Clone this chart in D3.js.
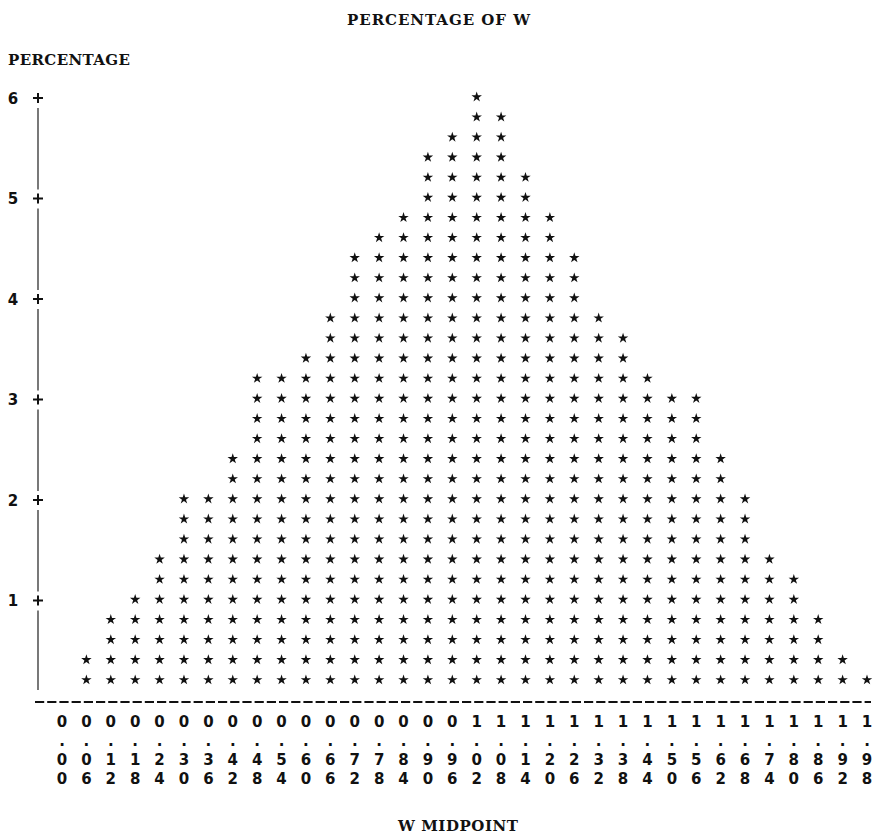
<!DOCTYPE html>
<html>
<head>
<meta charset="utf-8">
<script src="https://cdn.jsdelivr.net/npm/d3@7"></script>
<style>
  html, body { margin: 0; padding: 0; background: #fff; }
  svg { display: block; }
</style>
</head>
<body>
<svg id="chart" width="886" height="834"></svg>
<script>
// Midpoints of W (bar categories)
const midpoints = ["0.00","0.06","0.12","0.18","0.24","0.30","0.36","0.42","0.48","0.54",
                   "0.60","0.66","0.72","0.78","0.84","0.90","0.96","1.02","1.08","1.14",
                   "1.20","1.26","1.32","1.38","1.44","1.50","1.56","1.62","1.68","1.74",
                   "1.80","1.86","1.92","1.98"];
// Percentage of observations in each midpoint bin
const percentages = [0.0, 0.4, 0.8, 1.0, 1.4, 2.0, 2.0, 2.4, 3.2, 3.2,
                     3.4, 3.8, 4.4, 4.6, 4.8, 5.4, 5.6, 6.0, 5.8, 5.2,
                     4.8, 4.4, 3.8, 3.6, 3.2, 3.0, 3.0, 2.4, 2.0, 1.4,
                     1.2, 0.8, 0.4, 0.2];
// Vertical axis tick values
const yTicks = [1, 2, 3, 4, 5, 6];
const rowStep = 0.2;           // value represented by one printed line
const title = "PERCENTAGE OF W";
const yTitle = "PERCENTAGE";
const xTitle = "W MIDPOINT";

const svg = d3.select("#chart");
const slab = "'DejaVu Serif', serif";
const sans = "'DejaVu Sans', sans-serif";

const x = d3.scalePoint().domain(midpoints).range([62, 867]);
const y = d3.scaleLinear().domain([0, 6]).range([701, 98]);

// Titles
function heading(tx, ty, len, str) {
  svg.append("text").attr("x", tx).attr("y", ty)
    .attr("textLength", len).attr("lengthAdjust", "spacing")
    .style("font-family", slab).style("font-weight", "bold").style("font-size", "15px")
    .attr("fill", "#111").text(str);
}
heading(347, 25, 183, title);
heading(8, 65, 122, yTitle);
heading(398, 831, 120, xTitle);

// Vertical axis: line segments between the "+" tick marks
const axisX = 38;
const stops = [0].concat(yTicks);
const segs = [];
for (let i = 0; i < stops.length - 1; i++) {
  const lo = stops[i], hi = stops[i + 1];
  segs.push({ y1: y(hi) + 10, y2: lo === 0 ? 690 : y(lo) - 9 });
}
svg.append("g").selectAll("line").data(segs).join("line")
  .attr("x1", axisX).attr("x2", axisX)
  .attr("y1", d => d.y1).attr("y2", d => d.y2)
  .attr("stroke", "#6a6a6a").attr("stroke-width", 1.8);

const tickG = svg.append("g").selectAll("g").data(yTicks).join("g")
  .attr("transform", d => `translate(0,${y(d)})`);
tickG.append("path")
  .attr("d", `M${axisX - 5},0H${axisX + 5}M${axisX},-5V5`)
  .attr("stroke", "#111").attr("stroke-width", 2);
tickG.append("text")
  .attr("x", 13).attr("y", 5.5).attr("text-anchor", "middle")
  .style("font-family", sans).style("font-weight", "bold").style("font-size", "15px")
  .attr("fill", "#111").text(d => d);

// Horizontal baseline of dashes
svg.append("line")
  .attr("x1", 35).attr("x2", 871).attr("y1", 702).attr("y2", 702)
  .attr("stroke", "#111").attr("stroke-width", 2.2)
  .attr("stroke-dasharray", "9.2,3");

// Bars drawn as stacked stars, one per printed line
const starPath = d3.symbol().type(d3.symbolStar).size(34)();
const cells = [];
midpoints.forEach((m, i) => {
  const n = Math.round(percentages[i] / rowStep);
  for (let k = 1; k <= n; k++) cells.push({ m, v: k * rowStep });
});
svg.append("g").selectAll("path").data(cells).join("path")
  .attr("d", starPath)
  .attr("transform", d => `translate(${x(d.m)},${y(d.v) - 1})`)
  .attr("fill", "#111");

// Midpoint labels, printed vertically one character per line
const labG = svg.append("g").selectAll("g").data(midpoints).join("g")
  .attr("transform", d => `translate(${x(d)},0)`);
labG.selectAll("text").data(d => d.split("")).join("text")
  .attr("x", 0).attr("y", (c, j) => 727 + j * 19)
  .attr("text-anchor", "middle")
  .style("font-family", sans).style("font-weight", "bold").style("font-size", "15px")
  .attr("fill", "#111").text(c => c);
</script>
</body>
</html>
